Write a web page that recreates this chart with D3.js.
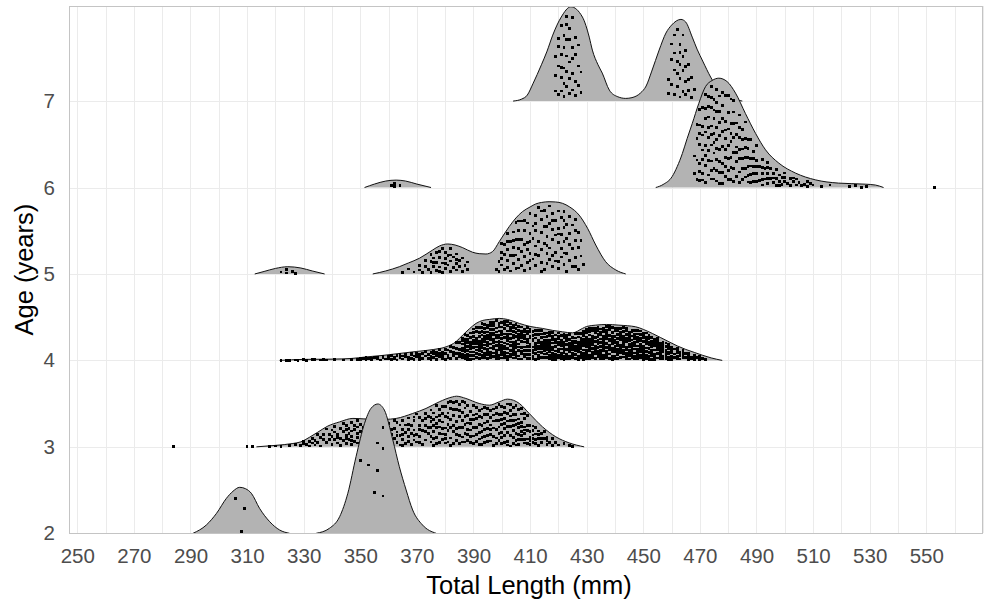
<!DOCTYPE html>
<html>
<head>
<meta charset="utf-8">
<script src="https://cdn.jsdelivr.net/npm/d3@7"></script>
<style>
  body { margin: 0; background: #fff; }
  text { font-family: "Liberation Sans", Arial, sans-serif; }
</style>
</head>
<body>
<svg id="chart" width="984" height="605"></svg>
<script>
// ---- axis values ----
const ages = [2, 3, 4, 5, 6, 7];
const xTicks = [250, 270, 290, 310, 330, 350, 370, 390, 410, 430, 450, 470, 490, 510, 530, 550];
const xMinor = [260, 280, 300, 320, 340, 360, 380, 400, 420, 440, 460, 480, 500, 520, 540, 560, 570];

// ---- density ridges: [total length (mm), scaled density] per segment ----
const ridge2 = [
  [[290.9,0],[295.6,.096],[299.2,.231],[302.7,.405],[305,.486],[307.4,.532],[309.5,.515],[311.5,.463],[314.4,.289],[318,.134],[321.5,.038],[325,0]],
  [[334.4,0],[339.1,.058],[342.7,.192],[345.6,.463],[348.5,.886],[351.5,1.272],[353.8,1.446],[356.2,1.496],[358.5,1.426],[361.5,1.079],[363.8,.770],[366.2,.501],[368.5,.270],[372,.096],[376.8,0]]
];
const ridge3 = [
  [[313.3,0],[320,.017],[326.2,.039],[329,.058],[332,.11],[335,.17],[338.5,.24],[342.7,.289],[347.4,.329],[351,.324],[355,.318],[358.5,.318],[362.7,.329],[368.5,.386],[373.2,.444],[377.9,.521],[382.6,.578],[384,.586],[387.3,.560],[392,.502],[395.6,.482],[399.1,.521],[402,.552],[406.2,.502],[409.7,.386],[414.4,.231],[419.1,.116],[423.8,.046],[429.1,0]]
];
const ridge4 = [
  [[321.5,0],[330,.012],[340,.015],[347,.023],[352,.040],[358,.058],[364,.081],[370,.104],[376,.127],[380.3,.157],[383.8,.216],[386.2,.293],[388.5,.364],[390.9,.428],[393.3,.463],[395.6,.474],[399.1,.486],[402,.474],[406.2,.428],[410,.393],[414.4,.370],[418,.347],[421.4,.331],[425,.319],[428.5,.370],[430,.393],[433.2,.408],[437,.416],[441.4,.408],[447.3,.389],[450,.359],[453.2,.312],[456,.266],[459.1,.215],[462,.168],[465,.127],[468,.093],[470.8,.061],[474,.029],[477.9,0]]
];
const ridge5 = [
  [[312.7,0],[316,.029],[320,.064],[324.4,.084],[329,.069],[333,.035],[337.4,0]],
  [[354.4,0],[359,.035],[363.8,.084],[367,.127],[370.9,.182],[375.6,.278],[378,.324],[380.9,.347],[383.5,.335],[386.2,.304],[389.7,.251],[392,.235],[394.4,.231],[396.7,.258],[399.1,.374],[402.6,.547],[405,.648],[407.3,.721],[410,.775],[412,.810],[414,.827],[416.7,.836],[419,.833],[421.4,.818],[424,.775],[427.3,.682],[430.3,.529],[433.2,.335],[436.7,.142],[440.3,.046],[443.8,0]]
];
const ridge6 = [
  [[351.5,0],[355,.040],[359,.075],[362.7,.086],[366,.075],[370,.040],[375,0]],
  [[454.4,0],[457,.035],[460.2,.127],[462,.243],[463.8,.393],[465.5,.567],[467.3,.740],[469.6,.972],[472,1.168],[474.3,1.238],[476.7,1.265],[479.6,1.226],[482.6,1.092],[486.1,.856],[489.7,.625],[493.2,.436],[497.9,.282],[503.8,.167],[510.8,.089],[519,.051],[528.4,.039],[532,.029],[534.9,0]]
];
const ridge7 = [
  [[404,0],[407,.023],[409,.069],[411,.2],[414,.42],[416,.578],[418,.763],[421,.972],[424.4,1.091],[428.5,.972],[430.9,.740],[432,.590],[434,.42],[435.5,.324],[438,.127],[441,.05],[443.8,.031],[446,.040],[449,.093],[451,.174],[453,.347],[455.6,.590],[458,.787],[460,.879],[463.3,.945],[465,.914],[467.3,.740],[469,.601],[471,.463],[473.8,.278],[476,.162],[479,.069],[482,.023],[485,0]]
];

// ---- individual fish: [total length (mm), [vertical jitter, % of ridge height]] ----
const points2 = [[306,[80]],[308,[4]],[309,[56]],[350,[78]],[353,[57]],[355,[32]],[356,[70,49]],[358,[85,68,30]]];
const points3 = [
  [284,[0]],[310,[0]],[312,[0]],
  [318,[40]],[320,[60]],[322,[30]],[325,[50]],[327,[70]],[329,[20]],
  [330,[45,80]],[331,[25]],[332,[60,10]],[333,[35,75]],[334,[50,15]],[335,[85,30]],[336,[55,5]],[337,[40,70]],[338,[20,90]],[339,[60,35]],
  [340,[10,48,76]],[341,[30,64,88]],[342,[16,52,40]],[343,[72,6,34]],[344,[58,90,24]],[345,[44,12,80]],[346,[28,66,50]],[347,[8,38,86]],[348,[62,20,74]],[349,[46,94,32]],
  [350,[14,56,80]],[351,[36,68]],[352,[22,50,88]],[353,[6,42]],[354,[64,30,84]],[355,[18,54]],[356,[40,76,8]],[357,[28,62]],[358,[48,90,14]],[359,[34,70]],[360,[20,56,84]],[361,[44,10]],[362,[66,30,92]],[363,[52,16]],[364,[38,74,6]],
  [365,[24,58,86]],[366,[46,12,70]],[367,[32,90,54]],[368,[8,64,40]],[369,[78,20,50]],[370,[36,94,14]],[371,[60,28,82]],[372,[44,6,70]],[373,[18,56,88]],[374,[34,76,48]],
  [375,[12,62,26,90]],[376,[50,80,36,4]],[377,[22,68,44,94]],[378,[58,10,82,30]],[379,[40,72,16,54]],[380,[86,26,64,8]],[381,[46,92,34,70]],[382,[18,56,2,78]],[383,[62,30,88,42]],[384,[12,74,50,24]],[385,[38,84,6,60]],[386,[54,20,70,92]],[387,[28,46,80,10]],[388,[66,36,14,86]],[389,[50,76,22,58]],
  [390,[8,42,90]],[391,[64,28,74]],[392,[18,52,84]],[393,[36,6,68]],[394,[56,92,24]],[395,[12,44,78]],[396,[70,30,52]],[397,[4,60,88]],[398,[40,20,76]],[399,[58,94,14]],
  [400,[32,70,48,8]],[401,[84,24,60,40]],[402,[12,54,90,30]],[403,[66,2,44,78]],[404,[20,86,36,58]],[405,[50,14,72,92]],[406,[28,64,6,44]],[407,[80,38,18,60]],[408,[10,52,74,34]],[409,[46,88,22]],
  [410,[30,66,8]],[411,[56,16,40]],[412,[72,26]],[413,[4,50,36]],[414,[62,20]],[415,[44,80]],[416,[12,58]],[417,[30]],[418,[68,8]],[419,[40]],[420,[22]],[422,[50]],[424,[30]],[425,[10]],
  [345,[30,66]],[347,[56,22]],[349,[14,70]],[351,[8,52]],[353,[26,74]],[355,[40,88]],[357,[10,48]],[359,[20,82]],[361,[28,62]],[363,[40,86]],[365,[4,40]],[367,[16,70]],[369,[34,88]],[371,[12,48]],[373,[40,74]],
  [375,[48,72]],[376,[20,64]],[377,[8,54]],[378,[44,70]],[379,[28,88]],[380,[40,18]],[381,[10,60]],[382,[40,92]],[383,[6,74]],[384,[36,90]],[385,[22,72]],[386,[10,40]],[387,[62,92]],[388,[26,50]],[389,[10,36]],
  [390,[24,60,70]],[391,[12,44,88]],[392,[34,70,6]],[393,[22,50,88]],[394,[10,40,76]],[395,[28,60,92]],[396,[14,42,86]],[397,[24,44,74]],[398,[8,60,90]],[399,[30,72,44]],
  [400,[20,60,88]],[401,[10,50,74]],[402,[42,70,4]],[403,[24,56,90]],[404,[8,70,46]],[405,[30,60,4]],[406,[16,54,86]],[407,[28,50,94]],[408,[20,88,44]],[409,[10,60]],[410,[48,20]],[411,[70,28]],[412,[12,48]],[413,[66]],[414,[40]],[416,[36]]
];
const points4 = [
  [322,[40]],[324,[60]],[325,[20]],[327,[50]],[328,[30]],[330,[70]],[331,[20]],[333,[50]],[334,[80]],[336,[30]],[337,[60]],[338,[40]],
  [341,[50]],[344,[30]],[347,[60]],
  [349,[40]],[350,[20,70]],[351,[50]],[352,[30,80]],[353,[60]],[354,[15,45]],[355,[75]],[356,[35,60]],[357,[10]],[358,[50,85]],[359,[25]],[360,[65,40]],
  [361,[15,80]],[362,[50,30]],[363,[70,5]],[364,[40,90]],[365,[20,60]],[366,[45,75]],[367,[10,35]],[368,[65,85,25]],[369,[50,15]],[370,[80,40]],[371,[30,60,5]],[372,[70,20]],[373,[45,90]],[374,[15,55]],[375,[35,75,8]],
  [376,[60,25,85]],[377,[45,10,70]],[378,[30,90,55]],[379,[18,64,40]],[380,[80,6,50]],[381,[34,72,20]],[382,[58,12,88]],[383,[44,26,76]],[384,[8,62,36,92]],[385,[50,18,80,30]],
  [386,[12,66,40,88,24]],[387,[54,6,76,32,94]],[388,[20,46,70,10,60]],[389,[84,36,4,56,26]],[390,[68,14,48,90,38]],[391,[28,78,8,58,44]],[392,[16,62,34,86,50,4]],
  [393,[72,22,52,94,12,40,64]],[394,[6,46,80,30,60,18,90]],[395,[36,70,14,54,86,26,44]],[396,[58,8,40,76,20,92,66]],[397,[28,50,84,10,62,34,74]],[398,[16,44,96,68,24,54,4]],[399,[80,32,60,12,46,88,38]],[400,[22,70,6,52,90,36,62]],[401,[42,14,78,56,28,94,8]],[402,[64,30,86,18,48,72,2]],[403,[10,54,38,82,24,66]],[404,[46,6,74,30,90,58,16]],[405,[34,62,20,84,50,8]],
  [406,[70,26,44,92,12,56]],[407,[18,64,36,80,4]],[408,[52,28,88,10,70]],[409,[40,76,16,60,94]],[410,[6,48,30,84,66]],[411,[58,22,74,40,12]],[412,[34,90,50,2,68]],[413,[14,62,80,26,44]],[414,[72,38,8,56,92]],[415,[20,46,84,30,64]],[416,[54,10,76,36,88]],[417,[28,66,16,48,82]],[418,[42,4,70,24,58]],[419,[86,32,60,12,46]],[420,[18,74,38,94,54]],
  [421,[8,50,26,68,86]],[422,[36,62,14,80,44]],[423,[56,22,90,6,70]],[424,[30,48,76,16,62]],[425,[84,40,10,58,26]],[426,[66,20,50,92,34]],[427,[4,44,78,28,60]],[428,[52,16,86,38,70,24]],
  [429,[12,64,32,90,46,76]],[430,[58,6,40,82,20,68]],[431,[30,74,14,52,94,36]],[432,[46,22,86,62,8,70]],[433,[18,54,34,78,92,40]],[434,[66,10,48,26,84,56]],[435,[38,72,4,60,20,88]],[436,[50,28,80,14,44,66]],[437,[8,62,36,94,24,76]],[438,[42,18,70,54,86,30]],[439,[60,2,46,78,34,92]],[440,[24,56,12,84,40,68]],[441,[74,32,90,16,50,6]],[442,[36,64,22,80,58,44]],[443,[10,48,70,28,94,62]],[444,[54,20,86,38,6,74]],[445,[30,66,46,14,82,58]],[446,[88,40,18,60,26,72]],[447,[4,52,34,78,12,64]],[448,[44,24,70,90,56,16]],[449,[62,8,38,80,28,50]],[450,[20,72,46,12,86,34]],
  [451,[56,30,78,6]],[452,[14,64,42,88]],[453,[36,4,70,50]],[454,[80,24,58,12]],[455,[46,90,28,66]],[456,[8,54,34,76]],[457,[62,20,84,40]],[458,[30,70,10,50]],[459,[88,44,18,62]],[460,[26,58,6,78]],
  [461,[40,72,16]],[462,[54,28,84]],[463,[10,62,36]],[464,[46,80,20]],[465,[30,66]],[466,[8,52,74]],[467,[38,18]],[468,[60,26]],[469,[44]],[470,[14,70]],[471,[36]],[472,[20]],
  [386,[50,78]],[387,[18,42,64]],[388,[34,82,4]],[389,[16,70,46]],[390,[24,58,80,4]],[391,[52,18,88,36]],[392,[72,26,42]],[393,[32,84,6,48]],[394,[38,70,12,54]],[395,[62,4,80,20]],[396,[30,50,84,12]],[397,[18,44,92,66]],[398,[36,78,10,60]],[399,[4,26,70,54]],[400,[44,14,80,28]],
  [401,[64,34,86,20]],[402,[10,56,40,94]],[403,[46,92,16,74]],[404,[22,64,84,38]],[405,[74,42,94,14]],[406,[36,4,80,64]],[407,[26,52,92,72]],[408,[38,62,18,80]],[409,[28,52,6,84]],[410,[18,72,40,92]],[411,[30,86,4,64]],[412,[22,78,42]],[413,[36,6,56,92]],[414,[46,24,82]],[415,[10,56,74,38]],
  [416,[22,64,46]],[417,[40,92,6,58]],[418,[14,36,80,92]],[419,[22,70,4]],[420,[30,62,84,8]],[421,[40,16,58]],[422,[26,92,52,4]],[423,[40,80,14]],[424,[6,52,92,40]],[425,[70,18,46]],[426,[8,42,78,62]],[427,[52,14,90,36]],[428,[8,60,46]],[429,[22,56,4,84]],[430,[30,92,50,14]],
  [431,[6,44,84,62]],[432,[34,14,54,92]],[433,[6,66,26,86]],[434,[36,74,92,18]],[435,[50,28,80,12]],[436,[6,58,36,90]],[437,[48,16,70,84]],[438,[6,60,38,94]],[439,[26,68,12,54]],[440,[50,4,90,32]],[441,[42,62,24,84]],[442,[8,30,70,90]],[443,[40,20,84,54]],[444,[30,64,92,14]],[445,[4,40,72,22]],
  [446,[50,8,84,34]],[447,[22,88,44,70]],[448,[34,6,80,62]],[449,[16,70,92,44]],[450,[60,4,28,80]],[451,[42,16,66,92]],[452,[28,54,4,76]],[453,[16,84,60,26]],[454,[40,70,4]],[455,[10,54,78]],[456,[20,66,44]],[457,[8,52,70]],[458,[40,86,22]],[459,[4,34,74]],[460,[44,16,66]],[462,[12,64]],[464,[30,62]],[466,[20,40]],[468,[10,44]]
];
const points5 = [
  [322,[30]],[324,[60,15]],[326,[40]],[327,[10]],
  [365,[20]],[367,[45]],[369,[15]],[371,[55,25]],[372,[10]],[373,[40,70]],[374,[20]],[375,[55,8,85]],[376,[30,65]],[377,[12,45,80]],[378,[25,60]],[379,[38,90,6]],[380,[18,52,74]],[381,[30,62]],[382,[8,44,86]],[383,[22,58]],[384,[36,70,14]],[385,[48,26]],[386,[10,60]],[387,[34]],[388,[18,50]],
  [398,[15]],[399,[40,8]],[400,[25,60,85]],[401,[12,48,72]],[402,[30,90,55]],[403,[6,38,66]],[404,[20,80,50]],[405,[34,10,62,92]],[406,[44,24,74]],[407,[14,56,86,36]],[408,[28,68,6]],[409,[48,18,78,38]],[410,[60,8,90,30]],[411,[22,52,70]],[412,[40,12,84,62]],[413,[26,94,46]],[414,[16,58,76,34]],[415,[6,42,88,66]],[416,[28,52,14,80]],[417,[36,70,20,94]],[418,[10,48,62,84]],[419,[30,74,18,54]],[420,[44,8,88,64]],[421,[24,56,36,80]],[422,[14,66,46,90]],[423,[30,4,72,52]],[424,[20,60,86]],[425,[40,12,76]],[426,[26,54,88]],[427,[8,44,70]],[428,[32,60]],[429,[18]],
  [376,[48]],[378,[10,80]],[380,[36]],[382,[64]],[384,[52]],
  [400,[42]],[402,[14,72]],[404,[64,36]],[406,[10,90,58]],[408,[46,84]],[410,[20,48]],[412,[28,72]],[414,[4,88]],[416,[40,66]],[418,[26,74]],[420,[18,56]],[422,[30,76]],[424,[44]],[426,[12,70]]
];
const points6 = [
  [361,[30]],[362,[10,60]],[364,[25]],
  [468,[20,45]],[469,[10,62,35,80]],[470,[28,72,50,8,90]],[471,[40,15,65,85,30]],[472,[55,22,78,5,42,92]],[473,[12,36,68,88,48]],[474,[25,58,8,75,40,95]],[475,[18,50,82,32,64]],[476,[6,44,70,26,90,55]],[477,[35,14,60,84,48]],[478,[22,76,4,52,38]],[479,[62,28,86,10,46]],[480,[16,40,72,56]],
  [481,[30,8,64,88,46]],[482,[20,52,78,36]],[483,[12,44,70,28]],[484,[58,6,34,84]],[485,[24,48,72]],[486,[14,40,66,88]],[487,[30,56,8]],[488,[20,46,76]],[489,[36,10,62]],[490,[26,52,80]],
  [491,[14,44]],[492,[32,64,6]],[493,[22,50]],[494,[40,12,70]],[495,[28,58]],[496,[16,46]],[497,[34,8,66]],[498,[24,52]],[499,[14,44]],[500,[30,70]],
  [501,[20]],[502,[50,10]],[503,[36]],[504,[18,60]],[505,[40]],[507,[25]],[508,[55,10]],[510,[30]],[513,[20]],[516,[45]],[523,[20]],[525,[50]],[527,[10]],[529,[30]],[553,[0]],
  [470,[18,62]],[471,[56,8]],[472,[32,68]],[473,[26,78,58]],[474,[16,50,85]],[475,[42,72,8]],[476,[16,36,78]],[477,[24,70,4]],[478,[14,64,88]],[479,[20,54,36]],[480,[8,28,88]],
  [481,[20,54]],[482,[6,66,90]],[483,[58,38]],[484,[18,44,70]],[485,[10,36,60]],[486,[26,54]],[487,[18,44,70]],[488,[8,34]],[489,[24,50]],[490,[12,40]],[492,[18,46]],[494,[26,56]],[496,[32]],[498,[8]],[500,[50]],[503,[60]],[506,[15]],[509,[45]]
];
const points7 = [
  [419,[35,62,14]],[420,[80,45,8,70]],[421,[28,90,55,12,40]],[422,[38,75,20,62,5]],[423,[50,85,16,33,68,94]],[424,[8,42,66,24,78]],[425,[30,58,90,12,46]],[426,[22,70,6,52]],[427,[40,18,64]],[428,[10,34]],
  [459,[30,10]],[460,[55,22,75]],[461,[40,8,62,85]],[462,[18,50,35,90]],[463,[5,28,70,45,60]],[464,[12,38,82,55]],[465,[25,64,8,44]],[466,[15,50,30]],[467,[6,36]],[468,[20]]
];

// ---- layout ----
const panel = { left: 69, top: 6, right: 983, bottom: 533.3 };
const x = d3.scaleLinear().domain([247.07, 570.04]).range([panel.left, panel.right]);
const y = d3.scaleLinear().domain([2, 8.1]).range([panel.bottom, panel.top]);

const svg = d3.select("#chart");
const grid = svg.append("g").attr("shape-rendering", "crispEdges");

grid.selectAll("line.vx")
  .data(xTicks.concat(xMinor))
  .join("line")
  .attr("x1", d => Math.round(x(d)) + 0.5).attr("x2", d => Math.round(x(d)) + 0.5)
  .attr("y1", panel.top).attr("y2", panel.bottom)
  .attr("stroke", "#ebebeb").attr("stroke-width", 1);

grid.selectAll("line.hy")
  .data(ages)
  .join("line")
  .attr("x1", panel.left).attr("x2", panel.right)
  .attr("y1", d => Math.round(y(d)) + 0.5).attr("y2", d => Math.round(y(d)) + 0.5)
  .attr("stroke", "#ebebeb").attr("stroke-width", 1);

svg.append("defs").append("clipPath").attr("id", "panelClip")
  .append("rect")
  .attr("x", panel.left).attr("y", panel.top)
  .attr("width", panel.right - panel.left).attr("height", panel.bottom - panel.top);

// ---- ridges, from the oldest (top) down so younger ridges sit in front ----
const series = [
  { age: 2, ridge: ridge2, points: points2 },
  { age: 3, ridge: ridge3, points: points3 },
  { age: 4, ridge: ridge4, points: points4 },
  { age: 5, ridge: ridge5, points: points5 },
  { age: 6, ridge: ridge6, points: points6 },
  { age: 7, ridge: ridge7, points: points7 }
];

const plot = svg.append("g").attr("clip-path", "url(#panelClip)");

function heightAt(ridge, len) {
  for (const seg of ridge) {
    const lo = seg[0][0], hi = seg[seg.length - 1][0];
    if (len >= lo && len <= hi) {
      return d3.scaleLinear().domain(seg.map(d => d[0])).range(seg.map(d => d[1]))(len);
    }
  }
  return 0;
}

series.slice().reverse().forEach(s => {
  const g = plot.append("g");
  const area = d3.area()
    .x(d => x(d[0]))
    .y0(y(s.age))
    .y1(d => y(s.age + d[1]))
    .curve(d3.curveMonotoneX);
  const line = d3.line()
    .x(d => x(d[0]))
    .y(d => y(s.age + d[1]))
    .curve(d3.curveMonotoneX);

  g.selectAll("path.fill").data(s.ridge).join("path")
    .attr("d", area).attr("fill", "#b3b3b3").attr("stroke", "none");
  g.selectAll("path.edge").data(s.ridge).join("path")
    .attr("d", line).attr("fill", "none").attr("stroke", "#111").attr("stroke-width", 1);

  const pts = [];
  s.points.forEach(([len, lifts]) => lifts.forEach(l => pts.push([len, l])));
  const size = 2.8;
  g.append("g").attr("shape-rendering", "crispEdges")
    .selectAll("rect").data(pts).join("rect")
    .attr("x", d => x(d[0]) - size / 2)
    .attr("y", d => y(s.age + heightAt(s.ridge, d[0]) * d[1] / 100) - size / 2)
    .attr("width", size).attr("height", size)
    .attr("fill", "#000");
});

// ---- panel border ----
svg.append("rect")
  .attr("x", panel.left + 0.5).attr("y", panel.top + 0.5)
  .attr("width", panel.right - panel.left - 1).attr("height", panel.bottom - panel.top)
  .attr("fill", "none").attr("stroke", "#c4c4c4").attr("stroke-width", 1)
  .attr("shape-rendering", "crispEdges");

// ---- axes ----
const xAxis = svg.append("g")
  .attr("transform", `translate(0,${panel.bottom})`)
  .call(d3.axisBottom(x).tickValues(xTicks).tickSize(0).tickPadding(15).tickFormat(d3.format("d")));
xAxis.select(".domain").remove();
xAxis.selectAll("text").attr("font-size", "20.5px").attr("fill", "#4d4d4d")
  .style("font-family", '"Liberation Sans", Arial, sans-serif');

const yAxis = svg.append("g")
  .attr("transform", `translate(${panel.left},0)`)
  .call(d3.axisLeft(y).tickValues(ages).tickSize(0).tickPadding(14).tickFormat(d3.format("d")));
yAxis.select(".domain").remove();
yAxis.selectAll("text").attr("font-size", "20.5px").attr("fill", "#4d4d4d")
  .style("font-family", '"Liberation Sans", Arial, sans-serif');

svg.append("text")
  .attr("x", (panel.left + panel.right) / 2 + 3).attr("y", 594)
  .attr("text-anchor", "middle").attr("font-size", "25.5px").attr("fill", "#000")
  .text("Total Length (mm)");

svg.append("text")
  .attr("transform", `translate(33,${(panel.top + panel.bottom) / 2}) rotate(-90)`)
  .attr("text-anchor", "middle").attr("font-size", "25.5px").attr("fill", "#000")
  .text("Age (years)");
</script>
</body>
</html>
